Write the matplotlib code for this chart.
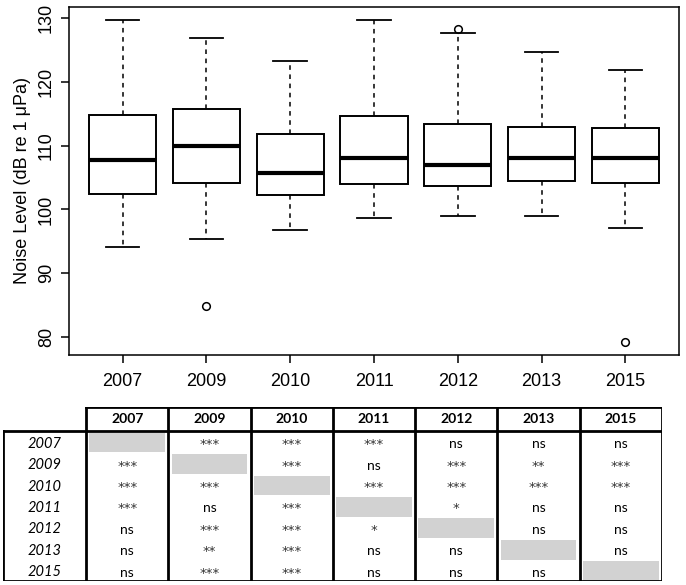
import matplotlib.pyplot as plt
from matplotlib.patches import Rectangle

years = ['2007', '2009', '2010', '2011', '2012', '2013', '2015']
whis_hi = [129.6, 126.8, 123.2, 129.7, 127.6, 124.6, 121.8]
q3 = [114.8, 115.8, 111.8, 114.6, 113.3, 112.9, 112.8]
med = [107.7, 110.0, 105.7, 108.1, 107.0, 108.0, 108.1]
q1 = [102.4, 104.1, 102.2, 104.0, 103.7, 104.4, 104.2]
whis_lo = [94.1, 95.4, 96.7, 98.7, 99.0, 99.0, 97.1]
outliers = [[], [84.8], [], [], [128.3], [], [79.2]]

# pairwise significance, rows vs columns ('' = diagonal)
sig = [
    ['', '***', '***', '***', 'ns', 'ns', 'ns'],
    ['***', '', '***', 'ns', '***', '**', '***'],
    ['***', '***', '', '***', '***', '***', '***'],
    ['***', 'ns', '***', '', '*', 'ns', 'ns'],
    ['ns', '***', '***', '*', '', 'ns', 'ns'],
    ['ns', '**', '***', 'ns', 'ns', '', 'ns'],
    ['ns', '***', '***', 'ns', 'ns', 'ns', ''],
]

W, H = 686, 585
fig = plt.figure(figsize=(W / 100, H / 100), dpi=100)

# ---- boxplot ----
ax = fig.add_axes([69 / W, (H - 355) / H, 610 / W, 348 / H])
stats = []
for i in range(len(years)):
    stats.append({'whislo': whis_lo[i], 'q1': q1[i], 'med': med[i], 'q3': q3[i],
                  'whishi': whis_hi[i], 'fliers': outliers[i], 'label': years[i]})
ax.bxp(stats, positions=range(1, 8), widths=0.8, patch_artist=True,
       boxprops=dict(facecolor='white', edgecolor='black', linewidth=1.4),
       medianprops=dict(color='black', linewidth=3),
       whiskerprops=dict(color='black', linewidth=1.1, linestyle=(0, (3, 3))),
       capprops=dict(color='black', linewidth=1.3), capwidths=0.4,
       flierprops=dict(marker='o', markerfacecolor='none', markeredgecolor='black',
                       markersize=5.5, markeredgewidth=1.1))
ax.set_xlim(0.36, 7.64)
ax.set_ylim(77.2, 131.7)
ax.set_yticks([80, 90, 100, 110, 120, 130])
ax.set_yticklabels(['80', '90', '100', '110', '120', '130'], rotation=90, va='center')
ax.tick_params(axis='both', direction='out', length=6, width=1.1, labelsize=13,
               colors='black')
ax.tick_params(axis='x', pad=7)
ax.tick_params(axis='y', pad=4)
for s in ax.spines.values():
    s.set_linewidth(1.1)
ax.set_ylabel('Noise Level (dB re 1 μPa)', fontsize=13, labelpad=5)
for lab in ax.get_xticklabels() + ax.get_yticklabels() + [ax.yaxis.label]:
    lab.set_family('Liberation Sans')

# ---- significance table ----
tx = fig.add_axes([3 / W, (H - 581) / H, 659 / W, 174 / H])
n = len(years)
hdr = 1.12
tx.set_xlim(-1.01, n)
tx.set_ylim(n, -hdr)
tx.axis('off')
tf = 'Lato'
lw = 2.0
for j, yr in enumerate(years):
    tx.text(j + 0.5, -hdr / 2, yr, ha='center', va='center', fontsize=10,
            fontweight='bold', family=tf)
    tx.text(-0.5, j + 0.78, yr, ha='center', va='baseline', fontsize=10.5,
            style='italic', family=tf)
    for i in range(n):
        if i == j:
            tx.add_patch(Rectangle((j + 0.04, i + 0.08), 0.92, 0.92,
                                   facecolor='#d2d2d2', edgecolor='none'))
        elif sig[i][j] == 'ns':
            tx.text(j + 0.5, i + 0.8, 'ns', ha='center', va='baseline',
                    fontsize=10, family=tf)
        else:
            tx.text(j + 0.5, i + 0.8, sig[i][j], ha='center', va='baseline',
                    fontsize=9.5, family='DejaVu Sans', color='#333333')
# header box
tx.plot([0, n], [-hdr, -hdr], color='black', lw=lw, solid_capstyle='projecting')
tx.plot([-1.01, n], [0, 0], color='black', lw=lw, solid_capstyle='projecting')
tx.plot([-1.01, n], [n, n], color='black', lw=lw, solid_capstyle='projecting')
tx.plot([-1.01, -1.01], [0, n], color='black', lw=lw, solid_capstyle='projecting')
for j in range(n + 1):
    tx.plot([j, j], [-hdr, n], color='black', lw=lw, solid_capstyle='projecting')

fig.savefig('out.png', dpi=100)
